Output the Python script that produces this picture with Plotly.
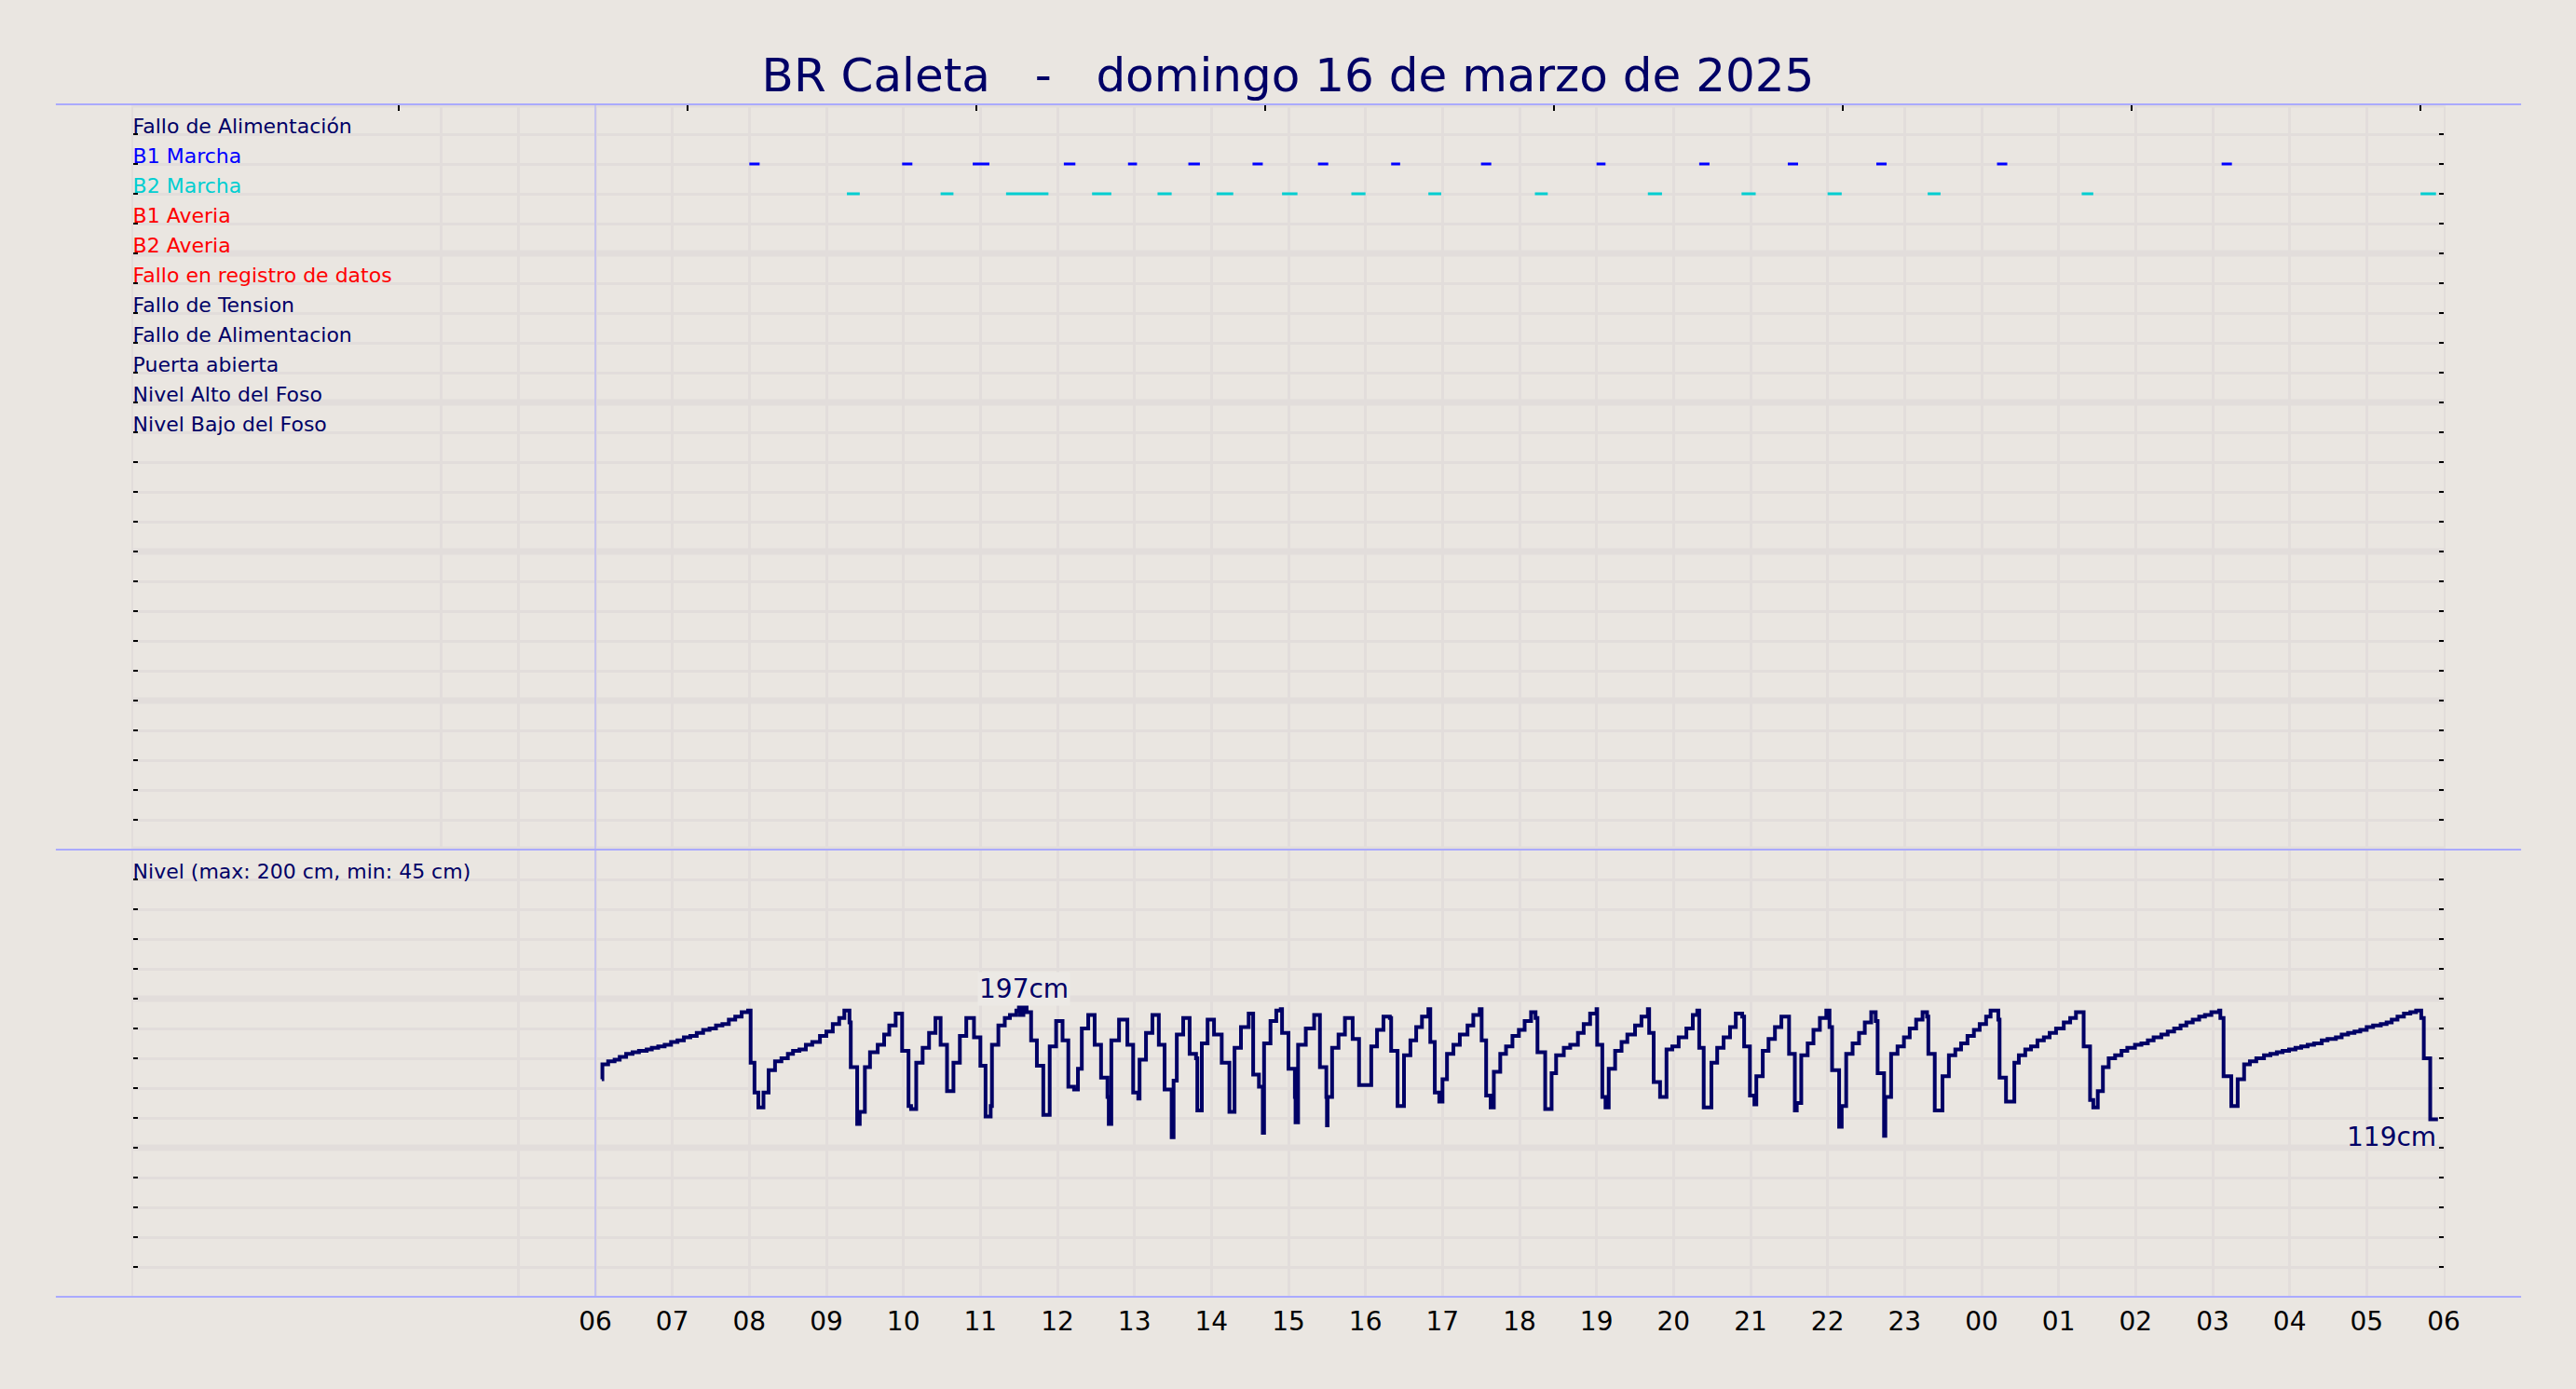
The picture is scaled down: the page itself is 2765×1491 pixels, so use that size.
import pandas as pd
import plotly.graph_objects as go
from plotly.subplots import make_subplots

# textos
titulo = "BR Caleta   -   domingo 16 de marzo de 2025"
senales = ["Fallo de Alimentación", "B1 Marcha", "B2 Marcha", "B1 Averia", "B2 Averia",
           "Fallo en registro de datos", "Fallo de Tension", "Fallo de Alimentacion",
           "Puerta abierta", "Nivel Alto del Foso", "Nivel Bajo del Foso"]
colores_senal = ["#000066", "#0000FF", "#00CED1", "#FF0000", "#FF0000",
                 "#FF0000", "#000066", "#000066", "#000066", "#000066", "#000066"]
etiqueta_nivel = "Nivel (max: 200 cm, min: 45 cm)"
horas = ["06", "07", "08", "09", "10", "11", "12", "13", "14", "15", "16", "17", "18",
         "19", "20", "21", "22", "23", "00", "01", "02", "03", "04", "05", "06"]

inicio = pd.Timestamp("2025-03-16 06:00")

# nivel del foso: minutos desde las 06:00 y nivel en cm
minutos_nivel = [
    5, 5.5, 10, 15, 19, 24, 29, 34, 40, 44, 49, 54, 59, 64, 69, 74, 79, 84, 89, 94,
    99, 104, 109, 114, 119, 121, 124, 127, 131, 135, 140, 145, 150, 154, 159, 164, 169, 175, 180, 185,
    190, 194, 198, 199, 204, 206, 210, 214, 220, 225, 229, 234, 239, 244, 246, 250, 255, 260, 265, 269,
    274, 279,
    284, 289, 295, 300, 304, 308, 309, 314, 319, 323, 328, 330, 331, 333.5, 336, 339.5, 344, 349, 354, 359,
    364, 368.5, 373, 376, 379, 384, 389, 394, 399, 400, 402, 408, 414.5, 419, 423, 424, 429, 434, 439, 443.5,
    449, 450.5, 453, 458, 463, 468, 469, 472.5, 477, 482, 488, 494, 498, 503, 509, 512.5, 517, 520, 521, 526,
    530.5, 534, 535, 540, 545, 545.5, 547.5, 553.5, 560, 564.5, 569.5, 570, 570.5,
    574, 579, 584, 590, 595, 604.5, 609, 614, 619, 620, 625, 630, 635, 639.5, 644, 649, 650.5, 654, 657.5, 660,
    663.5, 668.5, 673.5, 679.5, 684, 689, 690.5, 694, 697.5, 700, 705, 709.5, 714.5, 719.5, 724, 729, 732.5, 734, 740, 745,
    748.5, 754.5, 759.5, 765.5, 770, 775, 780, 780.5, 784.5, 787, 789.5, 794.5, 799.5, 804, 810, 815, 820, 821, 824.5, 829.5,
    834.5, 839, 844, 850, 855, 858.5, 860, 863.5,
    869.5, 874, 879, 884, 888.5, 893.5, 895, 899.5, 903, 904.5, 909.5, 914, 919, 924, 930, 934.5, 936, 939.5, 944.5, 949,
    954, 959, 961.5, 963.5, 969, 971, 974.5, 979.5, 984.5, 989, 994, 997.5, 999, 1004, 1005, 1009.5, 1014.5, 1019.5, 1024, 1029,
    1034, 1037.5, 1038.5, 1043.5, 1049.5, 1054.5, 1059.5, 1064, 1069, 1074, 1078.5, 1083.5, 1087, 1093, 1094, 1099, 1105.5, 1109, 1114, 1118.5,
    1123.5, 1128.5, 1133, 1138, 1144, 1149, 1153.5,
    1159.5, 1164.5, 1167, 1170.5, 1174.5, 1179, 1184, 1189, 1193.5, 1199.5, 1204.5, 1209.5, 1214, 1220, 1225, 1230, 1235, 1239.5, 1244.5, 1249.5,
    1254, 1259, 1265, 1266, 1268.5, 1274.5, 1279.5, 1284.5, 1289, 1294, 1300, 1305, 1310, 1314.5, 1319.5, 1324.5, 1329, 1334, 1339, 1345,
    1349.5, 1356, 1360.5, 1365.5, 1370.5, 1375, 1380, 1385, 1391, 1395.5, 1399.5, 1404, 1409, 1414, 1418.5, 1422.5, 1424.5, 1429.5, 1435.5,
]
nivel_cm = [
    146, 156, 158, 159, 161, 163, 164, 165, 166, 167, 168, 169, 171, 172, 174, 175, 177, 179, 180, 182,
    183, 186, 188, 191, 192, 157, 137, 127, 137, 152, 158, 160, 163, 165, 166, 169, 171, 175, 178, 183,
    187, 192, 184, 154, 116, 124, 154, 164, 169, 176, 182, 190, 165, 128, 126, 157, 167, 177, 187, 169,
    138, 157,
    175, 187, 174, 155, 121, 128, 169, 182, 187, 189, 192, 197, 189, 196, 191, 172, 155, 122, 168, 185,
    172, 141, 139, 153, 180, 189, 169, 147, 134, 116, 172, 186, 169, 137, 133, 159, 177, 189, 169, 139,
    107, 145, 176, 187, 163, 160, 125, 170, 186, 176, 157, 124, 167, 181, 190, 149, 141, 110, 170, 185,
    192, 193, 177, 153, 134, 117, 169, 180, 189, 154, 134, 115, 134,
    167, 176, 187, 173, 142, 168, 179, 188, 187, 165, 128, 162, 172, 181, 188, 193, 171, 137, 131, 146,
    163, 169, 176, 182, 189, 193, 172, 135, 127, 151, 163, 168, 175, 179, 185, 191, 187, 164, 126, 150,
    162, 167, 169, 177, 183, 190, 193, 169, 134, 127, 153, 165, 171, 176, 182, 188, 193, 177, 144, 134,
    166, 168, 174, 180, 189, 192, 167, 127,
    157, 167, 174, 181, 190, 188, 168, 135, 129, 148, 165, 173, 181, 188, 163, 125, 130, 162, 170, 179,
    187, 192, 181, 152, 114, 128, 163, 170, 177, 184, 191, 185, 150, 108, 134, 163, 168, 174, 180, 186,
    191, 188, 163, 125, 148, 162, 166, 170, 175, 179, 183, 188, 192, 186, 147, 131, 157, 162, 166, 168,
    172, 174, 177, 180, 184, 187, 191,
    168, 132, 127, 138, 154, 160, 162, 165, 167, 169, 170, 172, 174, 176, 178, 180, 182, 184, 186, 188,
    189, 191, 192, 187, 148, 128, 146, 156, 158, 160, 162, 163, 164, 165, 166, 167, 168, 169, 170, 172,
    173, 174, 176, 177, 178, 179, 181, 182, 183, 184, 186, 188, 190, 191, 192, 187, 160, 119, 119,
]

# marcha de bombas: inicio y fin en minutos desde las 06:00
b1_inicio = [120, 239, 294, 365, 415, 462, 512, 563, 620, 690, 780, 860, 929, 998, 1092, 1267]
b1_fin = [128, 247, 307, 374, 422, 471, 520, 571, 627, 698, 787, 868, 937, 1006, 1100, 1275]
b2_inicio = [196, 269, 320, 387, 438, 484, 535, 589, 649, 732, 820, 893, 960, 1038, 1158, 1422]
b2_fin = [206, 279, 353, 402, 449, 497, 547, 600, 659, 742, 831, 904, 971, 1048, 1167, 1434]

fondo = "#EAE6E1"
rejilla = "#E2DDDB"
marino = "#000066"
lavanda = "#AAAAFF"

t_nivel = inicio + pd.to_timedelta(minutos_nivel, unit="min")


def tramos(ini, fin, fila):
    xs, ys = [], []
    for a, b in zip(ini, fin):
        xs += [inicio + pd.Timedelta(minutes=a), inicio + pd.Timedelta(minutes=b), None]
        ys += [fila, fila, None]
    return xs, ys


fig = make_subplots(rows=2, cols=1, shared_xaxes=True, vertical_spacing=0, row_heights=[25, 15])

x1, y1 = tramos(b1_inicio, b1_fin, 2)
x2, y2 = tramos(b2_inicio, b2_fin, 3)
fig.add_trace(go.Scatter(x=x1, y=y1, mode="lines", line=dict(color=colores_senal[1], width=3)), row=1, col=1)
fig.add_trace(go.Scatter(x=x2, y=y2, mode="lines", line=dict(color=colores_senal[2], width=3)), row=1, col=1)
fig.add_trace(go.Scatter(x=t_nivel, y=nivel_cm, mode="lines",
                         line=dict(color=marino, width=4, shape="hv")), row=2, col=1)

# eje x: rejilla cada hora, etiquetas solo desde las 06
x_ticks = pd.date_range("2025-03-16 00:00", "2025-03-17 06:00", freq="h")
x_text = [""] * 6 + horas
marcas_sup = ["2025-03-16 03:26:40", "2025-03-16 07:11:40", "2025-03-16 10:56:40", "2025-03-16 14:41:40",
              "2025-03-16 18:26:40", "2025-03-16 22:11:40", "2025-03-17 01:56:40", "2025-03-17 05:41:40"]

fig.update_xaxes(range=[x_ticks[0], x_ticks[-1]], tickmode="array", tickvals=x_ticks,
                 showgrid=True, gridcolor=rejilla, gridwidth=2.5, zeroline=False, ticks="")
fig.update_xaxes(row=1, col=1, showticklabels=False, side="top",
                 minor=dict(tickvals=marcas_sup, ticks="inside", ticklen=7, tickwidth=2,
                            tickcolor="black", showgrid=False))
fig.update_xaxes(row=2, col=1, ticktext=x_text, showticklabels=True, ticklabelstandoff=7,
                 tickfont=dict(size=28, color="black"))

fig.update_yaxes(ticklabelposition="inside top", ticks="inside", ticklen=5, tickwidth=2,
                 tickcolor="black", mirror="ticks", showline=True, linecolor=rejilla, linewidth=2,
                 showgrid=True, gridcolor=rejilla, gridwidth=2.5, zeroline=False,
                 tickfont=dict(size=22))

texto_filas = [f"<span style='color:{c}'>{s}</span>" for s, c in zip(senales, colores_senal)]
texto_filas += [""] * (24 - len(texto_filas))
fig.update_yaxes(row=1, col=1, range=[25, 0], tickmode="array", tickvals=list(range(1, 25)),
                 ticktext=texto_filas, ticklabelshift=-8)

niv_vals = list(range(20, 300, 20))
niv_text = ["" for v in niv_vals]
niv_text[-1] = f"<span style='color:{marino}'>{etiqueta_nivel}</span>"
fig.update_yaxes(row=2, col=1, range=[0, 300], tickmode="array", tickvals=niv_vals, ticktext=niv_text,
                 ticklabelshift=8)

# lineas gruesas de rejilla cada 5 filas
for f in range(0, 26, 5):
    fig.add_shape(type="line", xref="paper", x0=0, x1=1, yref="y", y0=f, y1=f,
                  line=dict(color=rejilla, width=7), layer="below")
for v in [100, 200]:
    fig.add_shape(type="line", xref="paper", x0=0, x1=1, yref="y2", y0=v, y1=v,
                  line=dict(color=rejilla, width=7), layer="below")

# separadores
for yy in [0, 0.375, 1]:
    fig.add_shape(type="line", xref="paper", x0=-0.0335, x1=1.0335, yref="paper", y0=yy, y1=yy,
                  line=dict(color=lavanda, width=2))
fig.add_shape(type="line", xref="x2", x0=inicio, x1=inicio, yref="paper", y0=0, y1=1,
              line=dict(color=lavanda, width=1))

# etiquetas de maximo y ultimo valor
i_max = nivel_cm.index(max(nivel_cm))
fig.add_annotation(x=t_nivel[i_max], y=nivel_cm[i_max], xref="x2", yref="y2",
                   text=f"{nivel_cm[i_max]}cm", showarrow=False, yanchor="bottom", yshift=-3, xshift=5,
                   bgcolor="#ECE9E5", font=dict(size=28, color=marino))
fig.add_annotation(x=t_nivel[-1], y=nivel_cm[-1], xref="x2", yref="y2",
                   text=f"{nivel_cm[-1]}cm", showarrow=False, xanchor="right", yanchor="top",
                   font=dict(size=28, color=marino))

fig.update_layout(
    title=dict(text=titulo.replace(" ", "\u00a0"), x=0.5, xanchor="center", y=0.946, yanchor="middle",
               font=dict(size=50, color=marino)),
    font=dict(family="DejaVu Sans"),
    paper_bgcolor=fondo,
    plot_bgcolor=fondo,
    showlegend=False,
    width=2765,
    height=1491,
    margin=dict(l=143, r=142, t=112, b=99),
)

fig.write_html("out.html", config={"displayModeBar": False},
               post_script="document.body.style.margin='0px';"
                           "document.body.style.overflow='hidden';")
